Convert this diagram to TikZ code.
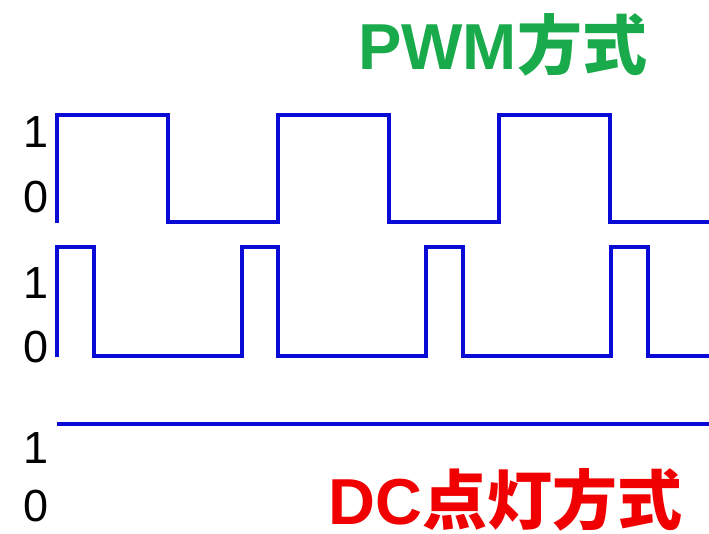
\documentclass[tikz,border=0pt]{standalone}
\usepackage{fontspec}
\setmainfont{Liberation Sans}
\newfontfamily\cjk{Noto Sans CJK JP}
\definecolor{wave}{RGB}{10,10,215}
\definecolor{pwmgreen}{RGB}{25,170,75}
\definecolor{dcred}{RGB}{240,0,0}
\begin{document}
\begin{tikzpicture}[x=1pt,y=-1pt,
  wavestyle/.style={draw=wave,line width=3.6pt,line join=miter,line cap=butt},
  digit/.style={anchor=base,inner sep=0pt,font=\fontsize{45}{45}\selectfont},
  title/.style={anchor=base west,inner sep=0pt,text depth=0pt,font=\fontsize{65}{65}\selectfont\bfseries}]
\useasboundingbox (0,0) rectangle (709,533);
\fill[white] (0,0) rectangle (709,533);
% titles
\node[title,text=pwmgreen] (pwm) at (358,69) {PWM{\cjk\bfseries 方式}};
\node[title,text=dcred] (dc) at (328,524) {DC{\cjk\bfseries 点灯方式}};
% labels
\node[digit] (a1) at (36,147) {1};
\node[digit] (a0) at (36,212) {0};
\node[digit] (b1) at (36,298) {1};
\node[digit] (b0) at (36,362) {0};
\node[digit] (c1) at (36,463) {1};
\node[digit] (c0) at (36,521) {0};
% waveform 1
\draw[wavestyle] (57,223) -- (57,115) -- (168,115) -- (168,222) -- (278,222) -- (278,115)
  -- (389,115) -- (389,222) -- (499,222) -- (499,115) -- (610,115) -- (610,222) -- (709,222);
% waveform 2
\draw[wavestyle] (57,357) -- (57,247) -- (94,247) -- (94,356) -- (242,356) -- (242,247)
  -- (278,247) -- (278,356) -- (426,356) -- (426,247) -- (463,247) -- (463,356)
  -- (611,356) -- (611,247) -- (648,247) -- (648,356) -- (709,356);
% DC line
\draw[wavestyle] (57,424) -- (709,424);
\end{tikzpicture}
\end{document}
